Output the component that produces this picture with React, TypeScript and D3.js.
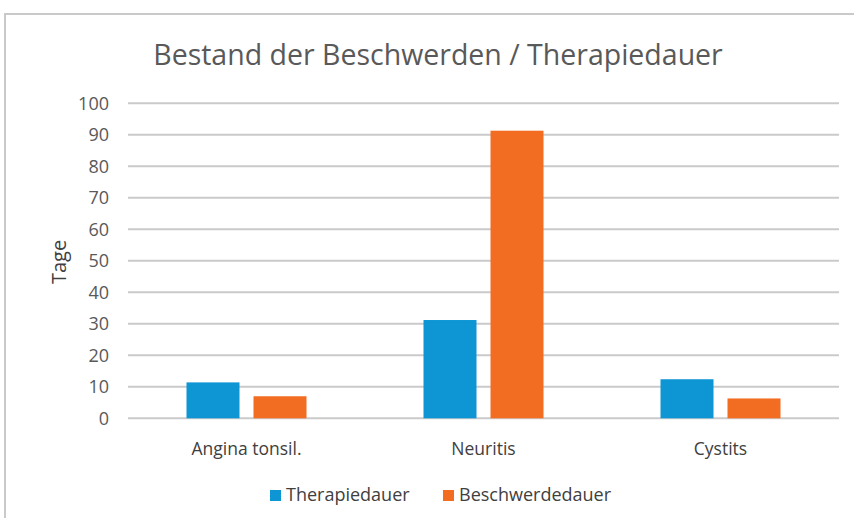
import React from "react";
import * as d3 from "d3";

const categories = ["Angina tonsil.", "Neuritis", "Cystits"];
const seriesNames = ["Therapiedauer", "Beschwerdedauer"];
const therapiedauer = [11.4, 31.2, 12.4];
const beschwerdedauer = [7, 91.3, 6.3];
const yTicks = [0, 10, 20, 30, 40, 50, 60, 70, 80, 90, 100];
const colors = ["#0E96D4", "#F26C22"];

const W = 854;
const H = 518;
const FONT = "'Open Sans', 'Liberation Sans', sans-serif";

export default function App() {
  const left = 128;
  const right = 839;
  const top = 103.3;
  const bottom = 418.3;
  const x = d3.scaleBand<string>().domain(categories).range([left, right]).paddingInner(0).paddingOuter(0);
  const y = d3.scaleLinear().domain([0, 100]).range([bottom, top]);
  const barW = 53;
  const gap = 14;
  const series = [therapiedauer, beschwerdedauer];

  return (
    <svg width={W} height={H} style={{ position: "absolute", left: 0, top: 0, background: "#fff" }}>
      <rect x={5} y={14} width={W} height={H} fill="#fff" stroke="#c9c9c9" strokeWidth={2} />
      <text x={438} y={65} textAnchor="middle" fontFamily={FONT} fontSize={28.5} fill="#595959">
        Bestand der Beschwerden / Therapiedauer
      </text>
      {yTicks.map((t) => (
        <g key={t}>
          <line x1={left} x2={right} y1={y(t)} y2={y(t)} stroke="#cacaca" strokeWidth={2} />
          <text x={109} y={y(t) + 6.5} textAnchor="end" fontFamily={FONT} fontSize={18} fill="#595959">
            {t}
          </text>
        </g>
      ))}
      <text transform={`translate(66,262) rotate(-90)`} textAnchor="middle" fontFamily={FONT} fontSize={20} fill="#404040">
        Tage
      </text>
      {categories.map((c, i) => {
        const cx = (x(c) as number) + x.bandwidth() / 2;
        return (
          <g key={c}>
            {series.map((s, j) => {
              const bx = j === 0 ? cx - gap / 2 - barW : cx + gap / 2;
              return (
                <rect key={j} x={bx} y={y(s[i])} width={barW} height={y(0) - y(s[i])} fill={colors[j]} />
              );
            })}
            <text x={cx} y={455} textAnchor="middle" fontFamily={FONT} fontSize={17.5} fill="#404040">
              {c}
            </text>
          </g>
        );
      })}
      {seriesNames.map((n, j) => {
        const lx = [270, 443][j];
        return (
          <g key={n}>
            <rect x={lx} y={490} width={11} height={11} fill={colors[j]} />
            <text x={lx + 16} y={501} fontFamily={FONT} fontSize={18} fill="#404040">
              {n}
            </text>
          </g>
        );
      })}
    </svg>
  );
}
